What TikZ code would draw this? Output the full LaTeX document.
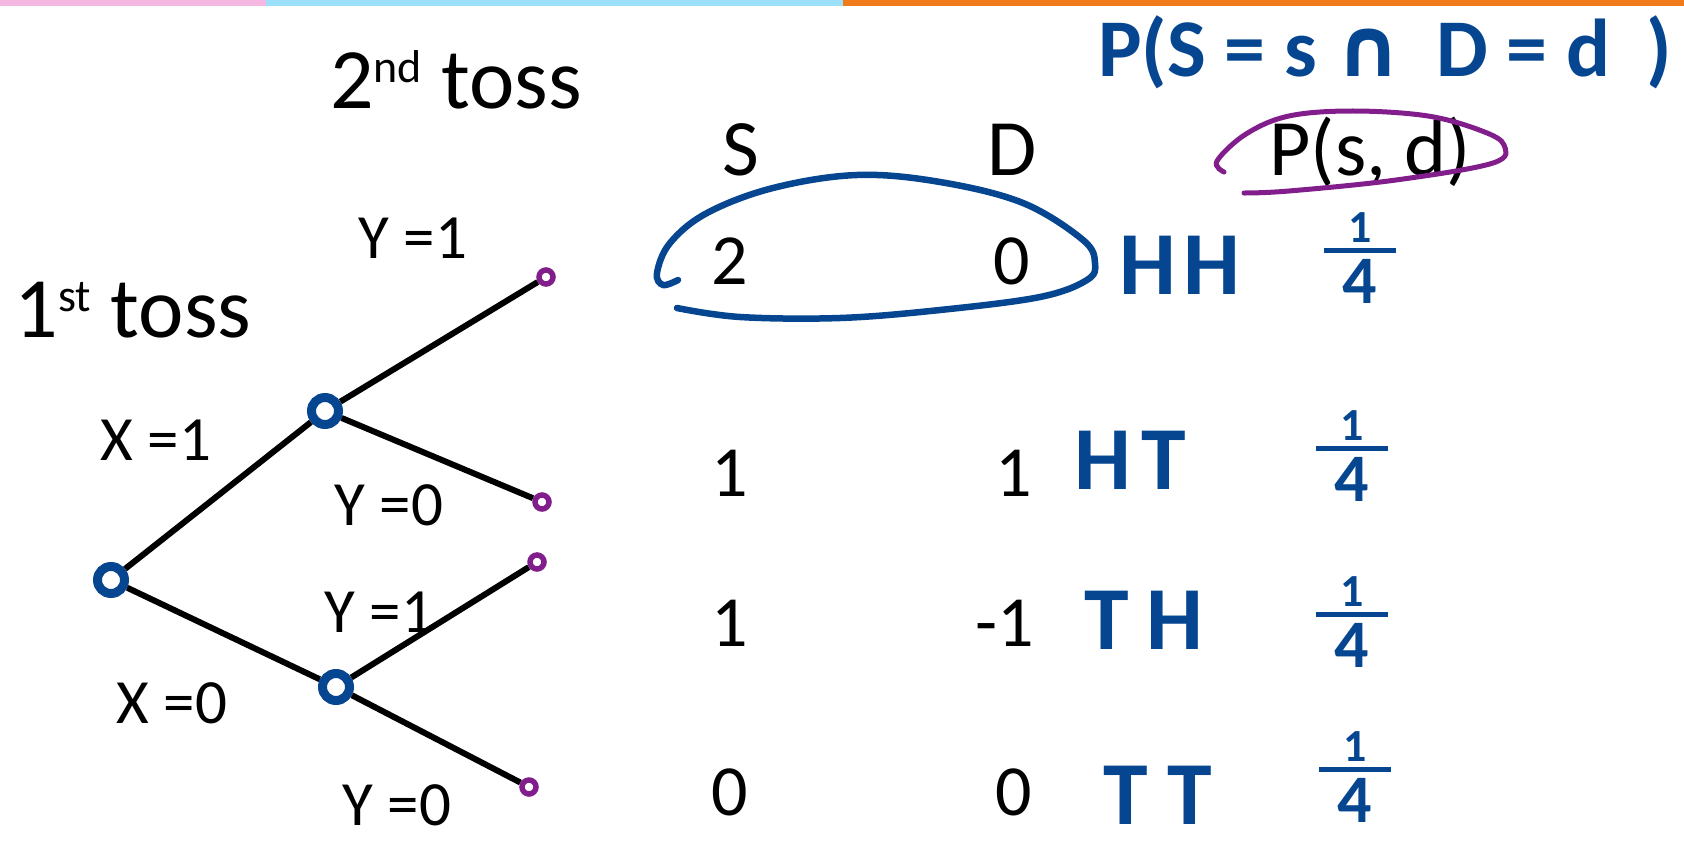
\documentclass[tikz,border=0pt]{standalone}
\usepackage{fontspec}
\setmainfont{Carlito}
\newfontfamily\symbolfont{DejaVu Sans}
\usetikzlibrary{positioning}
\definecolor{inkblue}{RGB}{6,70,145}
\definecolor{inkpurple}{RGB}{130,30,140}
\definecolor{barpink}{RGB}{244,184,226}
\definecolor{barblue}{RGB}{156,224,250}
\definecolor{barorange}{RGB}{241,122,26}
\setlength{\arrayrulewidth}{5pt}
\newcommand{\quarter}{\renewcommand{\arraystretch}{0}%
  \begin{tabular}{@{\hspace{19pt}}c@{\hspace{19pt}}}%
    \rule[-6pt]{0pt}{35pt}{\fontsize{46}{50}\selectfont 1}\\\hline
    \rule{0pt}{50pt}{\fontsize{68}{72}\selectfont 4}\end{tabular}}
\newcommand{\sups}[1]{\raisebox{0.3em}{\fontsize{46}{50}\selectfont #1}}
\tikzset{
  big/.style={font=\fontsize{86}{100}\selectfont},
  head/.style={font=\fontsize{80}{94}\selectfont},
  val/.style={font=\fontsize{72}{84}\selectfont},
  branch/.style={font=\fontsize{63}{74}\selectfont},
  ink/.style={inkblue,font=\fontsize{90}{100}\selectfont\bfseries},
  frac/.style={inkblue,inner sep=0pt,font=\bfseries},
  knot/.style={circle,draw=inkblue,line width=9pt,minimum size=27pt,inner sep=0pt},
  leaf/.style={circle,draw=inkpurple,line width=5.5pt,minimum size=14pt,inner sep=0pt},
  edge/.style={line width=6pt},
}

\begin{document}
\begin{tikzpicture}[x=1pt,y=-1pt]
  \useasboundingbox (0,0) rectangle (1684,845);
  % coloured strip on top
  \fill[barpink] (0,0) rectangle (266,6);
  \fill[barblue] (266,0) rectangle (843,6);
  \fill[barorange] (843,0) rectangle (1684,6);

  % tree
  \node[big] (first) at (133,310) {1\sups{st} toss};
  \node[big] (second) at (456,80) {2\sups{nd} toss};
  \node[knot] (root) at (111,580) {};
  \node[knot] (up) at (325,411) {};
  \node[knot] (dn) at (336,687) {};
  \node[leaf] (hh) at (546,277) {};
  \node[leaf] (ht) at (542,502) {};
  \node[leaf] (th) at (537,562) {};
  \node[leaf] (tt) at (529,787) {};
  \draw[edge] (root) -- (up);
  \draw[edge] (root) -- (dn);
  \draw[edge] (up) -- (hh);
  \draw[edge] (up) -- (ht);
  \draw[edge] (dn) -- (th);
  \draw[edge] (dn) -- (tt);
  \node[branch] (x1) at (156,440) {X =1};
  \node[branch] (x0) at (172,703) {X =0};
  \node[branch] (y1a) at (413,238) {Y =1};
  \node[branch] (y0a) at (389,505) {Y =0};
  \node[branch] (y1b) at (379,612) {Y =1};
  \node[branch] (y0b) at (397,805) {Y =0};

  % table
  \node[head] (S) at (741,150) {S};
  \node[head] (D) at (1012,150) {D};
  \node[head] (P) at (1370,152) {P(s, d)};
  \node[val] (s1) at (730,261) {2};
  \node[val] (d1) at (1012,261) {0};
  \node[val] (s2) at (730,473) {1};
  \node[val] (d2) at (1014,473) {1};
  \node[val] (s3) at (730,623) {1};
  \node[val] (d3) at (1005,623) {-1};
  \node[val] (s4) at (730,792) {0};
  \node[val] (d4) at (1014,792) {0};

  % handwriting
  \node[ink,font=\fontsize{82}{92}\selectfont\bfseries] (joint) at (1385,52)
    {P(S = s {\symbolfont ∩}\hspace{16pt} D = d\hspace{36pt})};
  \node[ink] (o1) at (1180,265) {H\hspace{8pt}H};
  \node[ink] (o2) at (1130,460) {H\hspace{10pt}T};
  \node[ink] (o3) at (1144,620) {T\hspace{18pt}H};
  \node[ink] (o4) at (1158,795) {T\hspace{20pt}T};
  \node[frac] (p1) at (1360,258) {\quarter};
  \node[frac] (p2) at (1352,456) {\quarter};
  \node[frac] (p3) at (1352,622) {\quarter};
  \node[frac] (p4) at (1355,777) {\quarter};
  \draw[inkblue,line width=6.5pt,line cap=round] plot[smooth,tension=0.6] coordinates
    {(678,280) (663,285) (657,273) (670,243) (707,213) (773,188) (857,175)
     (940,182) (1023,203) (1083,240) (1095,263) (1087,280) (1040,297)
     (940,310) (840,318) (740,317) (677,308)};
  \draw[inkpurple,line width=5pt,line cap=round] plot[smooth,tension=0.6] coordinates
    {(1224,172) (1217,161) (1246,134) (1289,116) (1353,111) (1428,116)
     (1482,131) (1504,145) (1493,163) (1396,180) (1289,191) (1244,193)};
\end{tikzpicture}
\end{document}
